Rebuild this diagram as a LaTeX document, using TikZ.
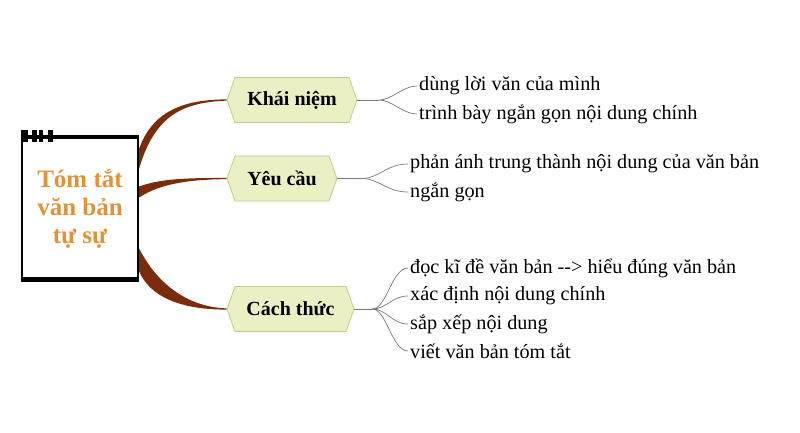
\documentclass[tikz,border=0pt]{standalone}
\usepackage{fontspec}
\setmainfont{Liberation Serif}
\usetikzlibrary{shapes.symbols}

\definecolor{hexfill}{RGB}{234,239,196}
\definecolor{hexline}{RGB}{196,202,140}
\definecolor{branchbrown}{RGB}{122,44,12}
\definecolor{titleorange}{RGB}{224,146,58}
\definecolor{twig}{RGB}{120,120,120}

\tikzset{
  topic/.style={signal, signal to=west and east, signal pointer angle=141,
    draw=hexline, fill=hexfill, line width=0.8pt, minimum height=45pt,
    inner sep=0pt, font=\fontsize{20}{24}\selectfont\bfseries},
  leaf/.style={anchor=west, inner xsep=2pt, inner ysep=0pt,
    font=\fontsize{20.2}{24}\selectfont},
  twigline/.style={draw=twig, line width=0.7pt},
}

\begin{document}
\begin{tikzpicture}[x=1pt,y=-1pt]
      \useasboundingbox (0,0) rectangle (800,433);

      % central box
      \node[minimum width=118pt, minimum height=147pt, inner sep=0pt] (root) at (80,208.5) {};
      \node[text=titleorange, align=center, font=\fontsize{25}{28}\selectfont\bfseries] (title) at (80,209) {Tóm tắt\\văn bản\\tự sự};

      % topics
      \node[topic, minimum width=130pt] (khainiem) at (292,100) {Khái niệm};
      \node[topic, minimum width=110pt] (yeucau) at (282,178.5) {Yêu cầu};
      \node[topic, minimum width=127pt] (cachthuc) at (290.5,309) {Cách thức};

      % leaves
      \node[leaf] (k1) at (417,86) {dùng lời văn của mình};
      \node[leaf] (k2) at (417,114) {trình bày ngắn gọn nội dung chính};
      \node[leaf] (y1) at (408,164) {phản ánh trung thành nội dung của văn bản};
      \node[leaf] (y2) at (408,192) {ngắn gọn};
      \node[leaf] (c1) at (408,268) {đọc kĩ đề văn bản -{}-> hiểu đúng văn bản};
      \node[leaf] (c2) at (408,296) {xác định nội dung chính};
      \node[leaf] (c3) at (408,324) {sắp xếp nội dung};
      \node[leaf] (c4) at (408,351) {viết văn bản tóm tắt};

      % brown branches
      \fill[branchbrown] ([yshift=60pt]root.east) .. controls +(13,-36) and +(-45,0) .. ([yshift=0.6pt]khainiem.west)
        -- ([yshift=-0.6pt]khainiem.west) .. controls +(-42,2) and +(16,-55) .. ([yshift=40pt]root.east) -- cycle;
      \fill[branchbrown] ([yshift=22pt]root.east) .. controls +(21,-8) and +(-37,0) .. ([yshift=0.6pt]yeucau.west)
        -- ([yshift=-0.6pt]yeucau.west) .. controls +(-37,0.5) and +(21,-14) .. ([yshift=11pt]root.east) -- cycle;
      \fill[branchbrown] ([yshift=-40pt]root.east) .. controls +(16,32) and +(-42,-1.5) .. ([yshift=0.6pt]cachthuc.west)
        -- ([yshift=-0.6pt]cachthuc.west) .. controls +(-47,0) and +(11,25) .. ([yshift=-63pt]root.east) -- cycle;

      % box border
      \draw[line width=2pt] ([xshift=1pt]root.north west) -- ([xshift=1pt]root.south west);
      \draw[line width=2pt] ([xshift=-1pt]root.north east) -- ([xshift=-1pt]root.south east);
      \draw[line width=4pt] ([yshift=-2pt]root.north west) -- ([yshift=-2pt]root.north east);
      \draw[line width=5pt] ([yshift=2.5pt]root.south west) -- ([yshift=2.5pt]root.south east);
      \foreach \a/\b in {0/7, 11/16, 18/22, 27/32}
        \fill ([xshift=\a pt,yshift=-7pt]root.north west) rectangle ([xshift=\b pt,yshift=5pt]root.north west);

      % twigs
      \coordinate (jk) at ([xshift=22pt]khainiem.east);
      \coordinate (jy) at ([xshift=24pt]yeucau.east);
      \coordinate (jc) at ([xshift=18pt]cachthuc.east);
      \draw[twigline] (khainiem.east) -- (jk);
      \draw[twigline] (yeucau.east) -- (jy);
      \draw[twigline] (cachthuc.east) -- (jc);
      \foreach \l in {k1,k2}
        \draw[twigline] (jk) .. controls +(12,0) and +(-14,0) .. (\l.west);
      \foreach \l in {y1,y2}
        \draw[twigline] (jy) .. controls +(18,0) and +(-22,0) .. (\l.west);
      \foreach \l in {c1,c2,c3,c4}
        \draw[twigline] (jc) .. controls +(14,0) and +(-16,0) .. (\l.west);
    \end{tikzpicture}
\end{document}
